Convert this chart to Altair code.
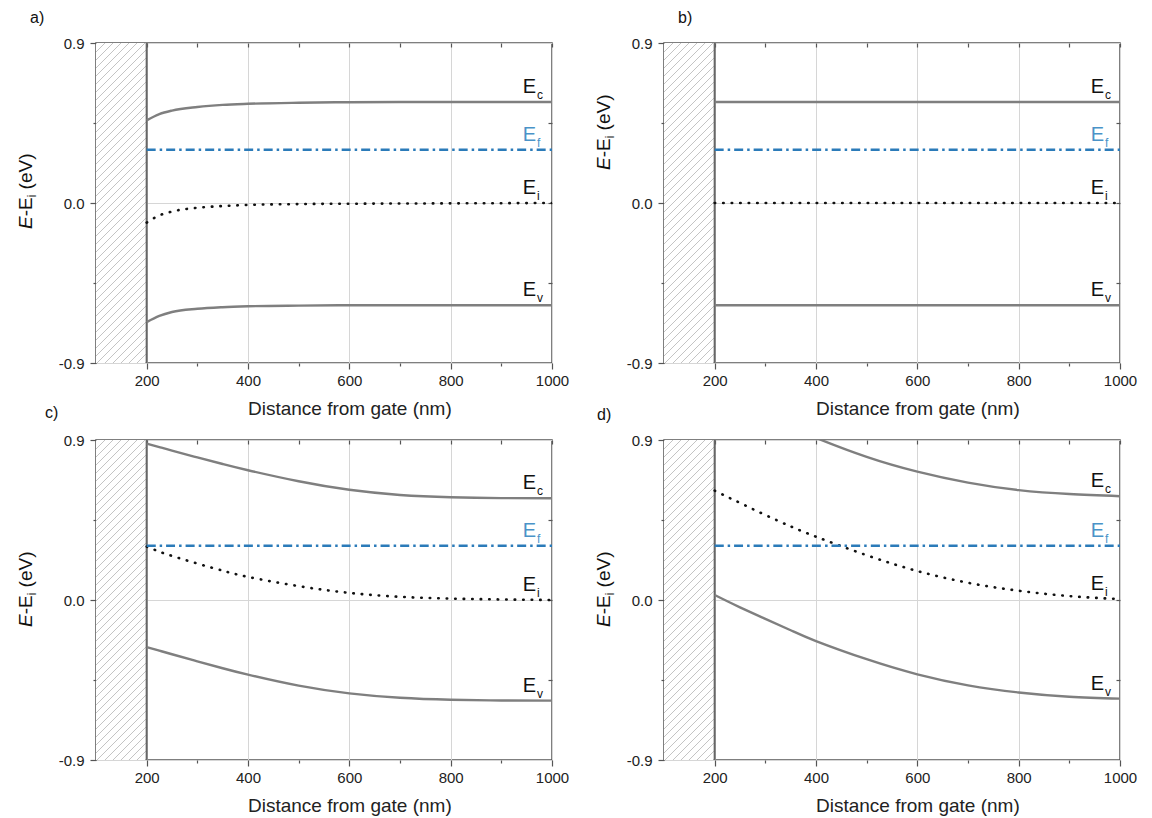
import altair as alt
import pandas as pd

# ---------------- data ----------------
X = [200, 225, 250, 300, 350, 400, 500, 600, 700, 800, 900, 1000]

EC_A = [0.465, 0.500, 0.520, 0.540, 0.552, 0.558, 0.564, 0.567, 0.568, 0.568, 0.568, 0.568]
EF_A = [0.300, 0.300, 0.300, 0.300, 0.300, 0.300, 0.300, 0.300, 0.300, 0.300, 0.300, 0.300]
EI_A = [-0.110, -0.070, -0.048, -0.027, -0.017, -0.011, -0.006, -0.004, -0.003, -0.002, -0.001, 0.000]
EV_A = [-0.670, -0.635, -0.613, -0.595, -0.586, -0.581, -0.577, -0.575, -0.575, -0.575, -0.575, -0.575]

EC_B = [0.568, 0.568, 0.568, 0.568, 0.568, 0.568, 0.568, 0.568, 0.568, 0.568, 0.568, 0.568]
EF_B = [0.300, 0.300, 0.300, 0.300, 0.300, 0.300, 0.300, 0.300, 0.300, 0.300, 0.300, 0.300]
EI_B = [0.000, 0.000, 0.000, 0.000, 0.000, 0.000, 0.000, 0.000, 0.000, 0.000, 0.000, 0.000]
EV_B = [-0.575, -0.575, -0.575, -0.575, -0.575, -0.575, -0.575, -0.575, -0.575, -0.575, -0.575, -0.575]

EC_C = [0.880, 0.860, 0.840, 0.802, 0.765, 0.730, 0.668, 0.620, 0.591, 0.578, 0.573, 0.572]
EF_C = [0.305, 0.305, 0.305, 0.305, 0.305, 0.305, 0.305, 0.305, 0.305, 0.305, 0.305, 0.305]
EI_C = [0.300, 0.272, 0.248, 0.205, 0.165, 0.130, 0.078, 0.040, 0.018, 0.008, 0.003, 0.000]
EV_C = [-0.265, -0.285, -0.305, -0.345, -0.384, -0.420, -0.482, -0.525, -0.550, -0.561, -0.565, -0.566]

EC_D = [1.190, 1.150, 1.110, 1.045, 0.975, 0.912, 0.805, 0.722, 0.660, 0.618, 0.596, 0.584]
EF_D = [0.305, 0.305, 0.305, 0.305, 0.305, 0.305, 0.305, 0.305, 0.305, 0.305, 0.305, 0.305]
EI_D = [0.615, 0.580, 0.546, 0.478, 0.414, 0.356, 0.252, 0.163, 0.097, 0.052, 0.022, 0.005]
EV_D = [0.028, -0.007, -0.041, -0.106, -0.170, -0.231, -0.333, -0.418, -0.480, -0.520, -0.544, -0.555]

SERIES = ["Ec", "Ef", "Ei", "Ev"]
LABEL_MAIN = ["E", "E", "E", "E"]
LABEL_SUB = ["c", "f", "i", "v"]
PANEL_LETTERS = ["a)", "b)", "c)", "d)"]

GATE_X = [100, 200]
X_DOMAIN = [100, 1000]
Y_DOMAIN = [-0.9, 0.9]
X_TICKS = [200, 300, 400, 500, 600, 700, 800, 900, 1000]
X_TICK_LABELS = ["200", "", "400", "", "600", "", "800", "", "1000"]
Y_TICKS = [-0.9, -0.45, 0.0, 0.45, 0.9]
Y_TICK_LABELS = ["-0.9", "", "0.0", "", "0.9"]
Y_INNER_TICKS = [-0.45, 0.0, 0.45]
X_TITLE = "Distance from gate (nm)"
X_TITLE_CENTER = 600
Y_TITLE_PARTS = ["E", "-E", "i", "(eV)"]

# ---------------- styles / layout ----------------
W, H = 456, 320
FONT = "Liberation Sans"
BAND = "#7f7f7f"
FERMI = "#2b7bb9"
FERMI_LABEL = "#4a93c8"
LINE_STYLES = {
    "Ec": dict(color=BAND, strokeWidth=2.4),
    "Ev": dict(color=BAND, strokeWidth=2.4),
    "Ei": dict(color="#111111", strokeWidth=2.6, strokeDash=[0.5, 8], strokeCap="round"),
    "Ef": dict(color=FERMI, strokeWidth=2.5, strokeDash=[9, 4, 2.5, 4]),
}
INTERP = ["monotone", "monotone", "natural", "natural"]
LABEL_COLORS = ["#111111", FERMI_LABEL, "#111111", "#111111"]
# per-panel placement of the panel letter and of the y title (pixels from plot top-left)
LETTER_POS = [(-66, -33), (14, -33), (-51, -35), (-67, -33)]
YTITLE_POS = [(-64, 186), (-54, 127), (-64, 187), (-54, 187)]


def label_expr(values, labels):
    expr = "''"
    for v, l in zip(values, labels):
        expr = f"abs(datum.value - ({v})) < 1e-6 ? '{l}' : " + expr
    return expr


def major_test(values, labels):
    return " || ".join(f"abs(datum.value - ({v})) < 1e-6" for v, l in zip(values, labels) if l)


X_MAJOR = major_test(X_TICKS, X_TICK_LABELS)
Y_MAJOR = major_test(Y_TICKS, Y_TICK_LABELS)


def hatch_fill(w_px, h_px, pitch=8.0, line=1.5, color="#c4c4c4"):
    L = w_px + h_px
    a = L / (w_px ** 2 + h_px ** 2)
    stops = []
    c = 0.0
    while c < L:
        t0 = c / L
        t1 = min((c + line) / L, 1.0)
        stops += [
            {"offset": t0, "color": "#ffffff"},
            {"offset": min(t0 + 0.4 / L, 1.0), "color": color},
            {"offset": t1, "color": color},
            {"offset": min(t1 + 0.4 / L, 1.0), "color": "#ffffff"},
        ]
        c += pitch
    return {"gradient": "linear", "x1": 0, "y1": 0,
            "x2": w_px * a, "y2": h_px * a, "stops": stops}


xs = alt.Scale(domain=X_DOMAIN, nice=False, zero=False)
ys = alt.Scale(domain=Y_DOMAIN, nice=False, zero=False)

x_axis = alt.Axis(
    orient="bottom", values=X_TICKS, format="d",
    labelExpr=label_expr(X_TICKS, X_TICK_LABELS),
    labelFlush=False, labelOverlap=False, labelPadding=4,
    tickSize={"condition": {"test": X_MAJOR, "value": 6}, "value": 3},
    grid=True, gridColor="#d6d6d6", gridWidth=1,
    gridOpacity={"condition": {"test": X_MAJOR, "value": 1}, "value": 0},
    domain=False, title=X_TITLE,
    titleX=W * (X_TITLE_CENTER - X_DOMAIN[0]) / (X_DOMAIN[1] - X_DOMAIN[0]),
    titleY=36, titleAlign="center", titleBaseline="top",
)
y_axis = alt.Axis(
    orient="left", values=Y_TICKS,
    labelExpr=label_expr(Y_TICKS, Y_TICK_LABELS),
    labelOverlap=False, labelPadding=6,
    tickSize={"condition": {"test": Y_MAJOR, "value": 6}, "value": 3},
    grid=True, gridColor="#d6d6d6", gridWidth=1,
    gridOpacity={"condition": {"test": Y_MAJOR, "value": 1}, "value": 0},
    domain=False, title=None,
)
top_axis = alt.Axis(orient="top", values=X_TICKS, labels=False, grid=False,
                    domain=False, tickSize=4, offset=-4, title=None)
right_axis = alt.Axis(orient="right", values=Y_INNER_TICKS, labels=False, grid=False,
                      domain=False, tickSize=4, offset=-4, title=None)


def panel(i, ec, ef, ei, ev):
    vals = {"Ec": ec, "Ef": ef, "Ei": ei, "Ev": ev}
    rows = [{"series": s, "x": x, "y": y} for s in SERIES for x, y in zip(X, vals[s])]
    df = pd.DataFrame(rows)
    gate = pd.DataFrame({"x0": [GATE_X[0]], "x1": [GATE_X[1]],
                         "y0": [Y_DOMAIN[0]], "y1": [Y_DOMAIN[1]]})
    lab = pd.DataFrame({"series": SERIES, "main": LABEL_MAIN, "sub": LABEL_SUB,
                        "y": [vals[s][-1] for s in SERIES]})
    one = pd.DataFrame({"letter": [PANEL_LETTERS[i]]})

    w_gate = W * (GATE_X[1] - GATE_X[0]) / (X_DOMAIN[1] - X_DOMAIN[0])
    hatch = alt.Chart(gate).mark_rect(fill=hatch_fill(w_gate, H), stroke=None).encode(
        x=alt.X("x0:Q", scale=xs, axis=top_axis), x2="x1:Q",
        y=alt.Y("y0:Q", scale=ys, axis=right_axis), y2="y1:Q")
    edge = alt.Chart(gate).mark_rule(color="#666666", strokeWidth=2).encode(
        x=alt.X("x1:Q", scale=xs, axis=None))

    layers = [hatch, edge]
    for s in ["Ec", "Ev", "Ei", "Ef"]:
        first = (s == "Ec")
        layers.append(
            alt.Chart(df).transform_filter(alt.datum.series == s)
            .mark_line(clip=True, interpolate=INTERP[i], **LINE_STYLES[s])
            .encode(x=alt.X("x:Q", scale=xs, axis=x_axis if first else None),
                    y=alt.Y("y:Q", scale=ys, axis=y_axis if first else None),
                    order="x:Q")
        )
    col = alt.Color("series:N", scale=alt.Scale(domain=SERIES, range=LABEL_COLORS), legend=None)
    layers.append(alt.Chart(lab).mark_text(font=FONT, fontSize=20, align="right",
                                           baseline="alphabetic", dy=-9).encode(
        x=alt.value(W - 16), y=alt.Y("y:Q", scale=ys, axis=None), text="main:N", color=col))
    layers.append(alt.Chart(lab).mark_text(font=FONT, fontSize=12, align="left",
                                           baseline="alphabetic", dy=-3).encode(
        x=alt.value(W - 15), y=alt.Y("y:Q", scale=ys, axis=None), text="sub:N", color=col))
    lx, ly = LETTER_POS[i]
    layers.append(alt.Chart(one).mark_text(font=FONT, fontSize=16, align="left",
                                           baseline="top", color="#111111").encode(
        x=alt.value(lx), y=alt.value(ly), text="letter:N"))
    # y title: italic E, -E, subscript i, (eV)  rotated
    tx, ty = YTITLE_POS[i]
    fs = 19
    widths = [0.667 * fs, 1.0 * fs, 0.222 * 12 + 0.278 * fs]
    offs = [0, widths[0], widths[0] + widths[1], widths[0] + widths[1] + widths[2]]
    for k, part in enumerate(Y_TITLE_PARTS):
        size = 12 if k == 2 else fs
        dxs = 4 if k == 2 else 0
        extra = {"fontStyle": "italic"} if k == 0 else {}
        layers.append(alt.Chart(one).mark_text(
            font=FONT, fontSize=size, angle=270, align="left", baseline="alphabetic",
            color="#111111", **extra).encode(
            x=alt.value(tx + dxs), y=alt.value(ty - offs[k]), text=alt.value(part)))
    return alt.layer(*layers).resolve_axis(x="independent", y="independent").properties(
        width=W, height=H)


pa = panel(0, EC_A, EF_A, EI_A, EV_A)
pb = panel(1, EC_B, EF_B, EI_B, EV_B)
pc = panel(2, EC_C, EF_C, EI_C, EV_C)
pd_ = panel(3, EC_D, EF_D, EI_D, EV_D)

chart = alt.concat(pa, pb, pc, pd_, columns=2, spacing={"row": 77, "column": 112}).properties(
    bounds="flush", padding={"left": 8, "top": 1, "right": 5, "bottom": 0}
).configure_view(stroke="#555555", strokeWidth=1.5).configure_axis(
    labelFont=FONT, labelFontSize=15, labelColor="#222222",
    titleFont=FONT, titleFontSize=19, titleFontWeight="normal", titleColor="#222222",
    tickColor="#555555", tickWidth=1.2,
)

chart.save("out.html", embed_options={"renderer": "svg", "actions": False})
